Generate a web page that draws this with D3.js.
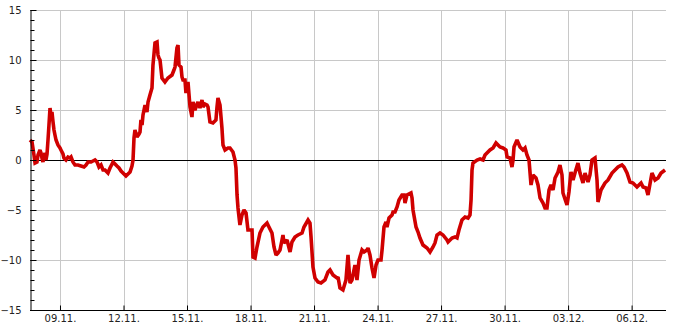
<!DOCTYPE html>
<html>
<head>
<meta charset="utf-8">
<script src="https://cdn.jsdelivr.net/npm/d3@7"></script>
<style>
  body { margin: 0; background: #fff; }
  svg { display: block; font-family: "DejaVu Sans", sans-serif; }
</style>
</head>
<body>
<svg id="chart"></svg>
<script>
// hours since 07.11. 00:00 and the value at that time
const hours = [
  14.0, 16.3, 18.5, 19.7, 21.9, 23.1, 25.3, 26.5, 27.6, 28.7, 29.9, 31.0, 32.1, 33.3, 34.4, 35.5,
  36.7, 37.8, 38.9, 40.1, 41.2, 42.3, 43.5, 45.7, 48.0, 49.1, 51.4, 52.5, 54.8, 57.1, 59.3, 60.5,
  62.7, 65.0, 68.4, 71.8, 75.2, 77.5, 79.8, 83.2, 85.4, 87.7, 90.0, 92.2, 94.5, 96.8, 99.0, 102.4,
  104.7, 107.0, 108.1, 110.4, 112.6, 114.9, 117.2, 119.4, 122.8, 125.1, 127.4, 129.6, 130.8, 131.9,
  133.0, 135.3, 137.6, 138.7, 139.8, 141.0, 142.1, 144.4, 146.6, 147.8, 150.0, 152.3, 153.4, 155.7,
  158.0, 159.1, 160.2, 161.4, 163.6, 167.0, 170.4, 175.0, 177.2, 178.4, 180.6, 181.8, 182.9, 185.2,
  186.3, 187.4, 189.7, 190.8, 193.1, 195.4, 197.6, 198.8, 201.0, 204.4, 206.7, 209.0, 210.1, 212.4,
  214.7, 215.8, 218.0, 221.4, 224.8, 226.0, 227.1, 229.4, 231.6, 232.8, 235.1, 238.5, 240.7, 244.1,
  246.4, 247.5, 248.7, 249.8, 252.0, 254.3, 256.6, 258.9, 261.1, 265.7, 266.8, 269.1, 271.3, 274.7,
  278.1, 282.7, 284.9, 288.3, 290.6, 292.9, 295.1, 297.4, 300.8, 301.9, 305.4, 308.8, 311.0, 314.4,
  317.8, 322.4, 324.6, 329.2, 331.4, 332.6, 334.8, 337.1, 340.5, 343.9, 348.4, 351.8, 354.1, 357.5,
  362.0, 363.2, 365.4, 368.8, 372.2, 374.5, 376.8, 379.0, 382.4, 384.7, 387.0, 390.4, 392.7, 396.0,
  397.2, 399.4, 401.7, 404.0, 406.3, 408.5, 411.9, 413.1, 415.3, 417.6, 418.7, 421.0, 424.4, 425.5,
  427.8, 430.1, 432.3, 435.7, 438.0, 439.1, 441.4, 445.9, 447.1, 448.2, 451.6, 453.9, 456.1, 459.5,
  464.1, 467.5, 470.9, 473.1, 475.4, 478.8, 482.2, 486.7, 487.9, 492.4, 495.8, 498.1, 500.3, 503.7,
  507.2, 510.6, 512.8, 514.0, 515.1, 516.2, 520.8, 524.2, 527.6, 529.8, 535.5, 538.9, 542.3, 546.8,
  550.2, 553.6, 554.8, 558.2, 560.4, 561.6, 562.7, 566.1, 569.5, 572.9, 575.2, 577.4, 579.7, 582.0,
  584.2, 587.6, 589.9, 592.2, 595.6, 597.8, 600.1, 602.4, 604.6, 606.9, 609.2, 612.6, 614.8, 617.1,
  618.2, 621.6, 622.8, 625.0, 627.3, 629.6, 631.8, 635.2, 637.5, 640.9, 643.2, 646.6, 648.8, 651.1,
  654.5, 656.8, 657.9, 661.3, 665.8, 669.3, 673.8, 677.2, 680.6, 685.1, 687.4, 690.8, 694.2, 697.6,
  702.1, 706.7, 709.0, 712.4, 714.6, 719.1, 722.6, 726.0, 729.4, 733.9
];
const values = [
  2.0, 1.8, 0.5, -0.3, -0.2, 0.5, 1.0, 0.7, 0.2, -0.2, 0.3, 0.7, 0.0, 0.6, 2.0, 3.5,
  5.2, 4.4, 4.8, 3.8, 3.0, 2.5, 2.0, 1.5, 1.2, 1.0, 0.6, 0.2, 0.0, 0.3, 0.2, 0.3,
  -0.2, -0.5, -0.5, -0.6, -0.7, -0.5, -0.2, -0.2, -0.1, 0.0, -0.2, -0.7, -0.5, -1.0, -1.0, -1.3,
  -0.8, -0.4, -0.2, -0.4, -0.6, -0.8, -1.1, -1.3, -1.6, -1.4, -1.2, -0.6, 0.0, 2.2,
  3.0, 2.3, 2.6, 2.8, 4.0, 3.5, 4.5, 5.5, 4.8, 5.8, 6.5, 7.2, 9.5, 11.7,
  11.8, 10.5, 10.2, 10.0, 8.2, 7.8, 8.2, 8.5, 9.0, 9.3, 11.2, 11.5, 9.5, 9.3,
  8.3, 8.0, 8.0, 6.7, 7.8, 5.3, 4.3, 5.8, 5.0, 5.8, 5.2, 6.0, 5.3, 5.6,
  5.5, 5.3, 3.8, 3.7, 4.0, 5.3, 6.2, 5.5, 3.2, 1.5, 1.0, 1.2, 1.2, 0.8,
  0.0, -0.8, -3.5, -4.8, -6.5, -5.5, -5.0, -5.3, -7.0, -7.0, -9.7, -9.8, -8.7, -7.3,
  -6.7, -6.3, -6.7, -7.3, -8.7, -9.5, -9.3, -9.0, -7.5, -8.3, -8.0, -9.2, -8.2, -7.7,
  -7.5, -7.3, -6.7, -6.0, -6.3, -7.7, -10.7, -11.8, -12.2, -12.3, -12.0, -11.2, -11.0, -11.5,
  -11.8, -11.7, -12.8, -13.0, -12.0, -9.5, -12.3, -12.0, -10.5, -12.0, -10.0, -9.0, -9.2, -9.0,
  -8.8, -9.5, -10.8, -11.8, -10.5, -10.0, -10.0, -9.0, -6.7, -6.2, -6.7, -5.8, -5.5, -5.2,
  -5.2, -4.7, -4.0, -3.5, -3.5, -4.3, -3.5, -3.3, -3.8, -5.0, -6.7, -7.2, -7.8, -8.5,
  -8.8, -9.2, -8.7, -8.3, -7.5, -7.3, -7.5, -8.0, -8.2, -7.8, -7.7, -7.8, -7.0, -6.0,
  -5.7, -5.8, -5.5, -4.0, -1.0, -0.3, 0.0, 0.1, 0.0, 0.5, 1.0, 1.2, 1.7, 1.3,
  1.2, 1.0, 0.3, 0.2, -0.7, 0.0, 1.3, 2.0, 1.3, 1.0, 1.2, 0.5, 0.0, -2.5,
  -1.5, -1.8, -2.5, -3.8, -4.3, -4.8, -4.8, -3.0, -2.5, -3.0, -1.8, -1.2, -0.5, -1.5,
  -3.3, -4.2, -4.5, -3.2, -1.2, -2.0, -1.3, -0.3, -1.3, -2.3, -1.3, -2.2, -1.5, 0.0,
  0.2, -2.0, -4.2, -3.0, -2.3, -2.0, -1.3, -1.0, -0.7, -0.5, -0.7, -1.3, -2.2, -2.3,
  -2.7, -2.3, -2.7, -2.8, -3.5, -1.3, -2.0, -1.8, -1.3, -1.0
];
const tickDays = ["2023-11-09", "2023-11-12", "2023-11-15", "2023-11-18", "2023-11-21",
                  "2023-11-24", "2023-11-27", "2023-11-30", "2023-12-03", "2023-12-06"];
const yMajor = [-15, -10, -5, 0, 5, 10, 15];
const yMinor = d3.range(-15, 16, 1);

const width = 685, height = 330;
const margin = {top: 10, right: 19, bottom: 20, left: 30};
const start = new Date(2023, 10, 7);
const toDate = h => new Date(start.getTime() + h * 3600e3);

const data = hours.map((h, i) => ({date: toDate(h), value: values[i]}));

const svg = d3.select("#chart").attr("width", width).attr("height", height);

const x = d3.scaleTime()
  .domain([toDate(14), toDate(735)])
  .range([margin.left, width - margin.right]);
const y = d3.scaleLinear()
  .domain([-15, 15])
  .range([height - margin.bottom, margin.top]);

const tickDates = tickDays.map(s => { const p = s.split("-"); return new Date(+p[0], +p[1] - 1, +p[2]); });

// grid
const grid = svg.append("g").attr("stroke", "#c8c8c8").attr("stroke-width", 1);
grid.selectAll(".vg").data(tickDates).enter().append("line")
  .attr("x1", d => Math.round(x(d)) + 0.5).attr("x2", d => Math.round(x(d)) + 0.5)
  .attr("y1", y(15)).attr("y2", y(-15));
grid.selectAll(".hg").data(yMajor.filter(v => v !== 0 && v !== -15)).enter().append("line")
  .attr("x1", margin.left).attr("x2", width - margin.right)
  .attr("y1", d => Math.round(y(d)) + 0.5).attr("y2", d => Math.round(y(d)) + 0.5);

// zero line
svg.append("line")
  .attr("x1", margin.left).attr("x2", width - margin.right)
  .attr("y1", Math.round(y(0)) + 0.5).attr("y2", Math.round(y(0)) + 0.5)
  .attr("stroke", "#000");

// the series
const line = d3.line().x(d => x(d.date)).y(d => y(d.value));
svg.append("path")
  .datum(data)
  .attr("d", line)
  .attr("fill", "none")
  .attr("stroke", "#d00000")
  .attr("stroke-width", 3.6)
  .attr("stroke-linejoin", "miter")
  .attr("stroke-miterlimit", 2);

// y axis: minor ticks then labelled major ticks, ticks pointing inside
svg.append("g")
  .attr("transform", `translate(${margin.left + 0.5},0)`)
  .call(d3.axisLeft(y).tickValues(yMinor).tickSize(-4).tickFormat(""))
  .call(g => g.select(".domain").remove());
const yAxis = svg.append("g")
  .attr("transform", `translate(${margin.left + 0.5},0)`)
  .call(d3.axisLeft(y).tickValues(yMajor).tickSize(-6).tickSizeOuter(0).tickPadding(9));
yAxis.selectAll("text").attr("font-size", 10).attr("fill", "#222")
  .attr("font-family", "DejaVu Sans, sans-serif");

// x axis
const xAxis = svg.append("g")
  .attr("transform", `translate(0,${height - margin.bottom + 0.5})`)
  .call(d3.axisBottom(x).tickValues(tickDates).tickSize(-5).tickSizeOuter(0)
    .tickPadding(4).tickFormat(d3.timeFormat("%d.%m.")));
xAxis.select(".domain").attr("d", `M${margin.left},0H${width - margin.right}`);
xAxis.selectAll("text").attr("font-size", 10).attr("fill", "#222")
  .attr("font-family", "DejaVu Sans, sans-serif");
</script>
</body>
</html>
